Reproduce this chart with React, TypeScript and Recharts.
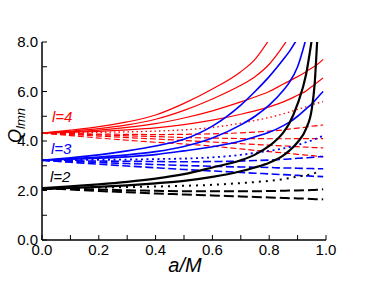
import { LineChart, Line, XAxis, YAxis } from 'recharts'

// spin parameter grid
const A = [0, 0.1, 0.2, 0.3, 0.4, 0.5, 0.6, 0.7, 0.75, 0.8, 0.85, 0.87, 0.9, 0.93, 0.95, 0.96, 0.97, 0.99]

// l = 2 (black)
const L2_M2 = [2.1, 2.17, 2.25, 2.35, 2.48, 2.66, 2.93, 3.22, 3.45, 3.8, 4.35, 4.7, 5.5, 6.7, 8.1, null, null, null]
const L2_M1 = [2.06, 2.1, 2.15, 2.21, 2.29, 2.39, 2.55, 2.78, 2.93, 3.12, 3.42, 3.6, 3.95, 4.5, 5.3, 6.3, 8.3, null]
const L2_M0 = [2.1, 2.11, 2.12, 2.14, 2.16, 2.19, 2.23, 2.3, 2.34, 2.39, 2.46, 2.5, 2.56, 2.62, 2.66, 2.7, 2.75, null]
const L2_MN1 = [2.1, 2.07, 2.04, 2.01, 1.99, 1.97, 1.97, 1.97, 1.97, 1.98, 1.99, 2.0, 2.0, 2.01, 2.02, 2.02, 2.03, 2.05]
const L2_MN2 = [2.1, 2.04, 1.98, 1.93, 1.88, 1.84, 1.8, 1.76, 1.74, 1.72, 1.7, 1.69, 1.68, 1.67, 1.66, 1.65, 1.65, 1.64]

// l = 3 (blue)
const L3_M3 = [3.22, 3.32, 3.44, 3.6, 3.8, 4.07, 4.6, 5.45, 6.0, 6.6, 7.3, 7.6, 8.15, null, null, null, null, null]
const L3_M2 = [3.22, 3.28, 3.35, 3.44, 3.57, 3.78, 4.12, 4.65, 5.0, 5.45, 6.05, 6.35, 7.0, 8.15, null, null, null, null]
const L3_M1 = [3.22, 3.26, 3.3, 3.36, 3.45, 3.6, 3.77, 4.0, 4.17, 4.35, 4.62, 4.75, 5.0, 5.3, 5.5, 5.62, 5.75, 6.0]
const L3_M0 = [3.22, 3.23, 3.24, 3.25, 3.27, 3.29, 3.34, 3.44, 3.52, 3.6, 3.7, 3.75, 3.84, 3.95, 4.02, 4.07, 4.12, 4.2]
const L3_MN1 = [3.22, 3.2, 3.19, 3.18, 3.17, 3.16, 3.17, 3.19, 3.21, 3.23, 3.26, 3.27, 3.3, 3.32, 3.34, 3.35, 3.36, 3.37]
const L3_MN2 = [3.22, 3.18, 3.13, 3.09, 3.05, 3.01, 2.98, 2.95, 2.94, 2.93, 2.91, 2.91, 2.9, 2.89, 2.89, 2.88, 2.88, 2.88]
const L3_MN3 = [3.22, 3.14, 3.06, 2.99, 2.92, 2.85, 2.79, 2.73, 2.7, 2.67, 2.64, 2.63, 2.61, 2.59, 2.58, 2.57, 2.57, 2.56]

// l = 4 (red)
const L4_M4 = [4.32, 4.44, 4.58, 4.77, 5.05, 5.52, 6.1, 6.8, 7.3, 8.1, null, null, null, null, null, null, null, null]
const L4_M3 = [4.32, 4.4, 4.5, 4.65, 4.88, 5.24, 5.7, 6.25, 6.6, 7.1, 7.85, 8.2, null, null, null, null, null, null]
const L4_M2 = [4.32, 4.37, 4.44, 4.55, 4.7, 4.93, 5.22, 5.58, 5.78, 6.0, 6.3, 6.42, 6.6, 6.8, 6.95, 7.02, 7.1, 7.3]
const L4_M1 = [4.32, 4.35, 4.39, 4.45, 4.53, 4.66, 4.84, 5.08, 5.22, 5.38, 5.58, 5.68, 5.85, 6.02, 6.2, 6.28, 6.37, 6.55]
const L4_M0 = [4.32, 4.33, 4.35, 4.37, 4.4, 4.45, 4.55, 4.72, 4.83, 4.95, 5.1, 5.17, 5.28, 5.38, 5.45, 5.5, 5.53, 5.59]
const L4_MN1 = [4.32, 4.3, 4.28, 4.27, 4.26, 4.27, 4.29, 4.33, 4.36, 4.4, 4.45, 4.48, 4.52, 4.56, 4.6, 4.61, 4.62, 4.65]
const L4_MN2 = [4.32, 4.29, 4.25, 4.21, 4.18, 4.14, 4.12, 4.1, 4.1, 4.09, 4.09, 4.09, 4.1, 4.1, 4.1, 4.1, 4.1, 4.1]
const L4_MN3 = [4.32, 4.26, 4.2, 4.14, 4.08, 4.02, 3.96, 3.89, 3.86, 3.83, 3.8, 3.79, 3.77, 3.75, 3.74, 3.73, 3.73, 3.72]
const L4_MN4 = [4.32, 4.22, 4.12, 4.03, 3.95, 3.88, 3.79, 3.68, 3.62, 3.57, 3.52, 3.5, 3.46, 3.43, 3.41, 3.4, 3.39, 3.37]

const X_TICKS = [0, 0.1, 0.2, 0.3, 0.4, 0.5, 0.6, 0.7, 0.8, 0.9, 1]
const Y_TICKS = [0, 1, 2, 3, 4, 5, 6, 7, 8]

const RED = '#ff0000'
const BLUE = '#0000ff'
const BLACK = '#000000'

const SOLID = undefined
const DOT = '1.5 3'
const DASH = '6 3'

const SERIES = [
  { key: 'l4m4', values: L4_M4, color: RED, width: 1.2, dash: SOLID },
  { key: 'l4m3', values: L4_M3, color: RED, width: 1.2, dash: SOLID },
  { key: 'l4m2', values: L4_M2, color: RED, width: 1.2, dash: SOLID },
  { key: 'l4m1', values: L4_M1, color: RED, width: 1.2, dash: SOLID },
  { key: 'l4m0', values: L4_M0, color: RED, width: 1.3, dash: DOT },
  { key: 'l4mn1', values: L4_MN1, color: RED, width: 1.2, dash: DASH },
  { key: 'l4mn2', values: L4_MN2, color: RED, width: 1.2, dash: DASH },
  { key: 'l4mn3', values: L4_MN3, color: RED, width: 1.2, dash: DASH },
  { key: 'l4mn4', values: L4_MN4, color: RED, width: 1.2, dash: DASH },
  { key: 'l3m3', values: L3_M3, color: BLUE, width: 1.6, dash: SOLID },
  { key: 'l3m2', values: L3_M2, color: BLUE, width: 1.6, dash: SOLID },
  { key: 'l3m1', values: L3_M1, color: BLUE, width: 1.6, dash: SOLID },
  { key: 'l3m0', values: L3_M0, color: BLUE, width: 1.8, dash: '2 3.5' },
  { key: 'l3mn1', values: L3_MN1, color: BLUE, width: 1.6, dash: '8 3.5' },
  { key: 'l3mn2', values: L3_MN2, color: BLUE, width: 1.6, dash: '8 3.5' },
  { key: 'l3mn3', values: L3_MN3, color: BLUE, width: 1.6, dash: '8 3.5' },
  { key: 'l2m2', values: L2_M2, color: BLACK, width: 2.2, dash: SOLID },
  { key: 'l2m1', values: L2_M1, color: BLACK, width: 2.2, dash: SOLID },
  { key: 'l2m0', values: L2_M0, color: BLACK, width: 2, dash: '2 5' },
  { key: 'l2mn1', values: L2_MN1, color: BLACK, width: 2, dash: '10 4' },
  { key: 'l2mn2', values: L2_MN2, color: BLACK, width: 2, dash: '10 4' },
]

const rows = A.map((a, i) => {
  const row: Record<string, number | null> = { a }
  SERIES.forEach((s) => { row[s.key] = s.values[i] })
  return row
})

const FONT = '"Liberation Sans", Arial, Helvetica, sans-serif'
const fmtX = (v: number) => (Math.round(v * 10) % 2 === 0 ? v.toFixed(1) : '')
const fmtY = (v: number) => (v % 2 === 0 ? v.toFixed(1) : '')

const axisLine = { stroke: '#000', strokeWidth: 1.5 }
const tickLine = { stroke: '#000', strokeWidth: 1 }

export default function App() {
  return (
    <div style={{ position: 'absolute', left: 0, top: 0, width: 367, height: 284, fontFamily: FONT, background: '#fff' }}>
      <LineChart width={367} height={284} data={rows} margin={{ top: 42, right: 41, bottom: 0, left: 0 }}>
        <XAxis
          dataKey="a" type="number" domain={[0, 1]} ticks={X_TICKS} interval={0}
          tickFormatter={fmtX} tickSize={-5} tickMargin={9} height={44}
          axisLine={axisLine} tickLine={tickLine} allowDataOverflow
          tick={{ fill: '#000', fontSize: 15, fontFamily: FONT }}
        />
        <XAxis
          xAxisId="top" orientation="top" dataKey="a" type="number" domain={[0, 1]}
          ticks={X_TICKS} interval={0} tick={false} tickSize={-5} height={0}
          axisLine={axisLine} tickLine={tickLine}
        />
        <YAxis
          type="number" domain={[0, 8]} ticks={Y_TICKS} interval={0}
          tickFormatter={fmtY} tickSize={-5} tickMargin={9} width={42}
          axisLine={axisLine} tickLine={tickLine} allowDataOverflow
          tick={{ fill: '#000', fontSize: 15, fontFamily: FONT }}
        />
        <YAxis
          yAxisId="right" orientation="right" type="number" domain={[0, 8]}
          ticks={Y_TICKS} interval={0} tick={false} tickSize={-5} width={0}
          axisLine={axisLine} tickLine={tickLine}
        />
        {SERIES.map((s) => (
          <Line
            key={s.key}
            type="monotone"
            dataKey={s.key}
            stroke={s.color}
            strokeWidth={s.width}
            strokeDasharray={s.dash}
            dot={false}
            activeDot={false}
            isAnimationActive={false}
          />
        ))}
      </LineChart>
      <svg width={367} height={284} style={{ position: 'absolute', left: 0, top: 0, pointerEvents: 'none' }}>
        <text transform="translate(21,143) rotate(-90)" fontSize={18} fontStyle="italic" fontFamily={FONT} fill="#000">
          Q<tspan fontSize={13} dy={4}>lmn</tspan>
        </text>
        <text x={185} y={272} textAnchor="middle" fontSize={20} fontStyle="italic" fontFamily={FONT} fill="#000">a/M</text>
        <text x={52} y={122} fontSize={15} fontStyle="italic" fontFamily={FONT} fill={RED}>l=4</text>
        <text x={51} y={154} fontSize={15} fontStyle="italic" fontFamily={FONT} fill={BLUE}>l=3</text>
        <text x={50} y={182} fontSize={15} fontStyle="italic" fontFamily={FONT} fill={BLACK}>l=2</text>
      </svg>
    </div>
  )
}
